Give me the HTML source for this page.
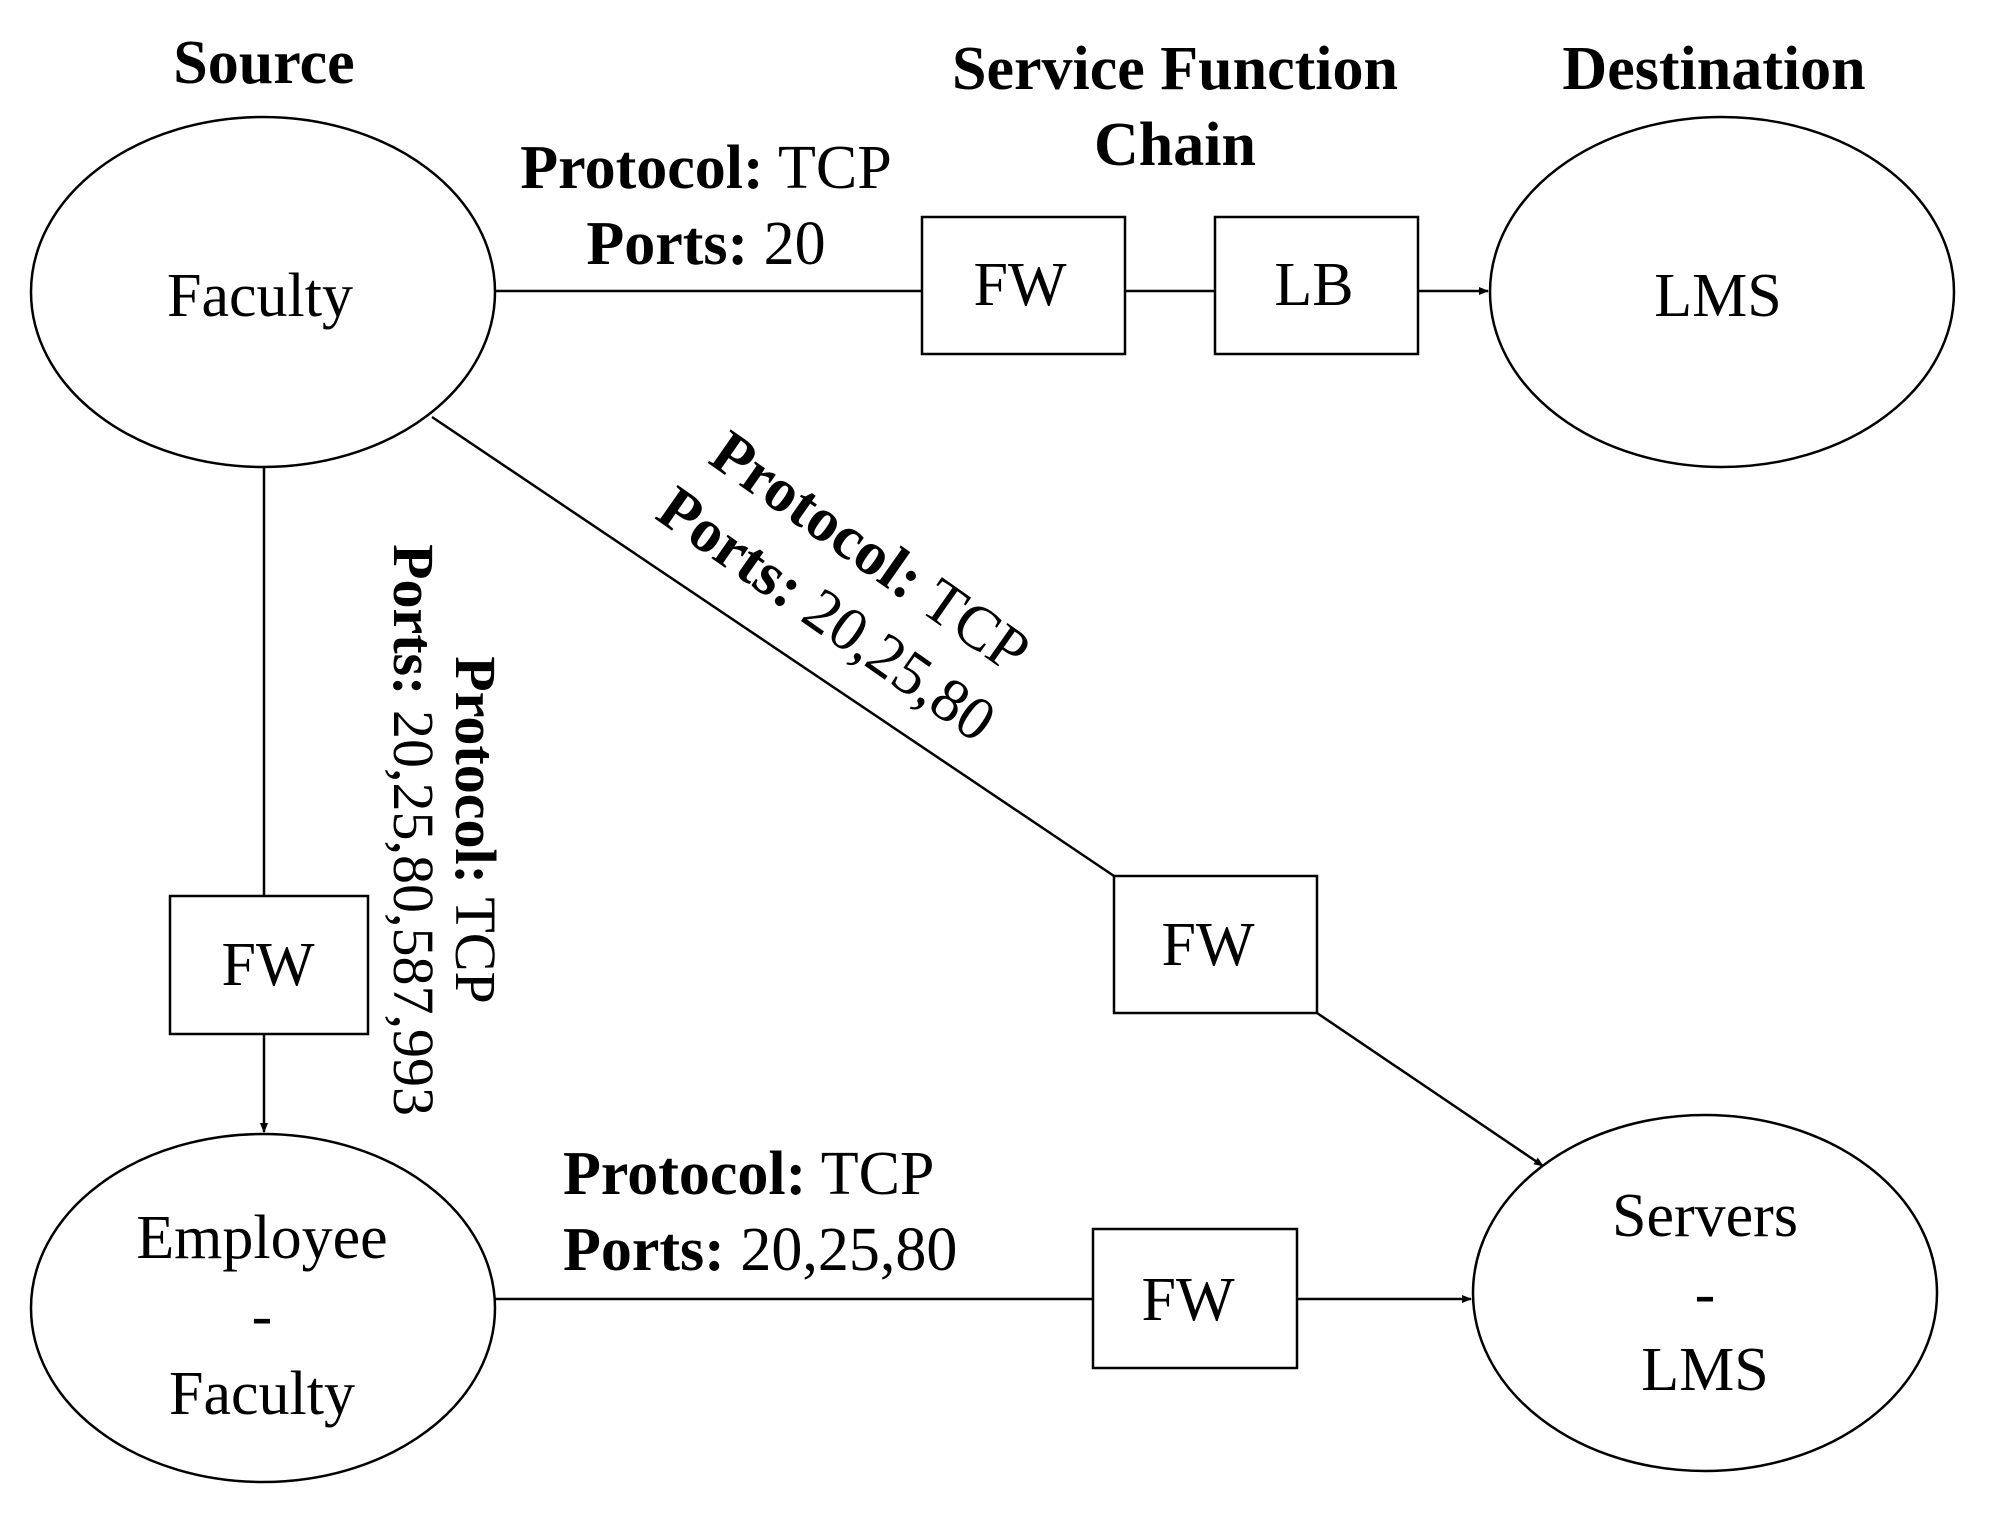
<!DOCTYPE html>
<html><head><meta charset="utf-8"><style>
html,body{margin:0;padding:0;background:#fff;}
svg{display:block;}
text{font-family:"Liberation Serif",serif;fill:#000;}
.b{font-weight:bold;}
</style></head><body>
<svg width="1991" height="1532" viewBox="0 0 1991 1532" xmlns="http://www.w3.org/2000/svg">
<defs><marker id="a" markerWidth="10" markerHeight="8" refX="9" refY="4" orient="auto" markerUnits="userSpaceOnUse"><path d="M0,0 L10,4 L0,8 z" fill="#000"/></marker></defs>
<g fill="none" stroke="#000" stroke-width="2.5">
<ellipse cx="263" cy="292" rx="232" ry="175"/>
<ellipse cx="1722" cy="292" rx="232" ry="175"/>
<ellipse cx="263" cy="1308" rx="232" ry="174"/>
<ellipse cx="1705" cy="1293" rx="232" ry="178"/>
<rect x="922" y="217" width="203" height="137"/>
<rect x="1215" y="217" width="203" height="137"/>
<rect x="170" y="896" width="198" height="138"/>
<rect x="1114" y="876" width="203" height="137"/>
<rect x="1093" y="1229" width="204" height="139"/>
<line x1="495" y1="291" x2="922" y2="291"/>
<line x1="1125" y1="291" x2="1215" y2="291"/>
<line x1="1418" y1="291" x2="1488" y2="291" marker-end="url(#a)"/>
<line x1="264" y1="467" x2="264" y2="896"/>
<line x1="264" y1="1034" x2="264" y2="1132" marker-end="url(#a)"/>
<line x1="432" y1="417" x2="1114" y2="876"/>
<line x1="1317" y1="1013" x2="1543" y2="1166" marker-end="url(#a)"/>
<line x1="495" y1="1299" x2="1093" y2="1299"/>
<line x1="1297" y1="1299" x2="1471" y2="1299" marker-end="url(#a)"/>
</g>
<g font-size="62" text-anchor="middle">
<text class="b" x="264" y="83">Source</text>
<text class="b" x="1175" y="89">Service Function</text>
<text class="b" x="1175" y="165">Chain</text>
<text class="b" x="1714" y="89">Destination</text>
<text x="260" y="316">Faculty</text>
<text x="1718" y="316">LMS</text>
<text x="1020" y="305">FW</text>
<text x="1314" y="305">LB</text>
<text x="268" y="985">FW</text>
<text x="1208" y="965">FW</text>
<text x="1188" y="1320">FW</text>
<text x="262" y="1258">Employee</text>
<text x="262" y="1336">-</text>
<text x="262" y="1414">Faculty</text>
<text x="1705" y="1236">Servers</text>
<text x="1705" y="1314">-</text>
<text x="1705" y="1390">LMS</text>
<text x="706" y="188"><tspan class="b">Protocol:</tspan> TCP</text>
<text x="706" y="264"><tspan class="b">Ports:</tspan> 20</text>
</g>
<g font-size="62">
<text x="563" y="1194"><tspan class="b">Protocol:</tspan> TCP</text>
<text x="563" y="1270"><tspan class="b">Ports:</tspan> 20,25,80</text>
</g>
<g font-size="62" text-anchor="middle" transform="translate(838,598) rotate(35)">
<text y="-36"><tspan class="b">Protocol:</tspan> TCP</text>
<text y="40"><tspan class="b">Ports:</tspan> 20,25,80</text>
</g>
<g font-size="58" text-anchor="middle" transform="translate(430,830) rotate(90)">
<text y="-26"><tspan class="b">Protocol:</tspan> TCP</text>
<text y="36"><tspan class="b">Ports:</tspan> 20,25,80,587,993</text>
</g>
</svg>
</body></html>
